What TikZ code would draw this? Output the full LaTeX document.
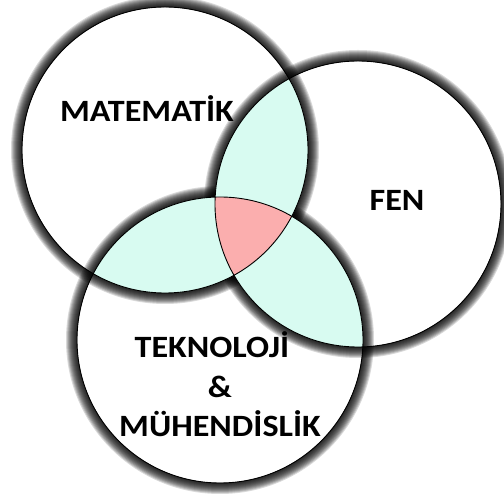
\documentclass[tikz,border=0pt]{standalone}
\usepackage{fontspec}
\setmainfont{Carlito}
\usepackage{tikz}
\definecolor{vmint}{HTML}{D8FBF1}
\definecolor{vpink}{HTML}{FBAEAE}
\tikzset{
  vset/.style={draw=black, line width=0.9pt},
  vlens/.style={fill=vmint},
  vcore/.style={fill=vpink},
  vglow/.style={black, opacity=0.15, even odd rule},
  vlbl/.style={font=\fontsize{31}{33}\selectfont\bfseries, inner sep=0pt,
               anchor=base, xscale=1.1},
}

\begin{document}
\begin{tikzpicture}[x=1pt,y=1pt]
  \useasboundingbox (0,0) rectangle (504,495);
  \def\rad{143}
  \coordinate (mat) at (165,345);
  \coordinate (fen) at (358,291);
  \coordinate (tek) at (220,155);

  % white discs
  \foreach \c in {mat,fen,tek}
    \fill[white] (\c) circle (\rad);

  % soft shadow outside each disc
  \foreach \c in {mat,fen,tek}
    \foreach \k in {1,...,11}
      \fill[vglow] (\c) circle ({\rad+\k}) (\c) circle (\rad);

  % pairwise overlaps
  \begin{scope}
    \clip (mat) circle (\rad);
    \fill[vlens] (fen) circle (\rad);
    \fill[vlens] (tek) circle (\rad);
  \end{scope}
  \begin{scope}
    \clip (fen) circle (\rad);
    \fill[vlens] (tek) circle (\rad);
  \end{scope}

  % triple overlap
  \begin{scope}
    \clip (mat) circle (\rad);
    \clip (fen) circle (\rad);
    \fill[vcore] (tek) circle (\rad);
  \end{scope}

  \foreach \c in {mat,fen,tek}
    \draw[vset] (\c) circle (\rad);

  \node[vlbl] (lmat) at (147,373) {MATEMATİK};
  \node[vlbl] (lfen) at (397,284) {FEN};
  \node[vlbl] (ltek) at (212,137) {TEKNOLOJİ};
  \node[vlbl] (lamp) at (220,97)  {\&};
  \node[vlbl] (lmuh) at (220,58)  {MÜHENDİSLİK};

\end{tikzpicture}
\end{document}
